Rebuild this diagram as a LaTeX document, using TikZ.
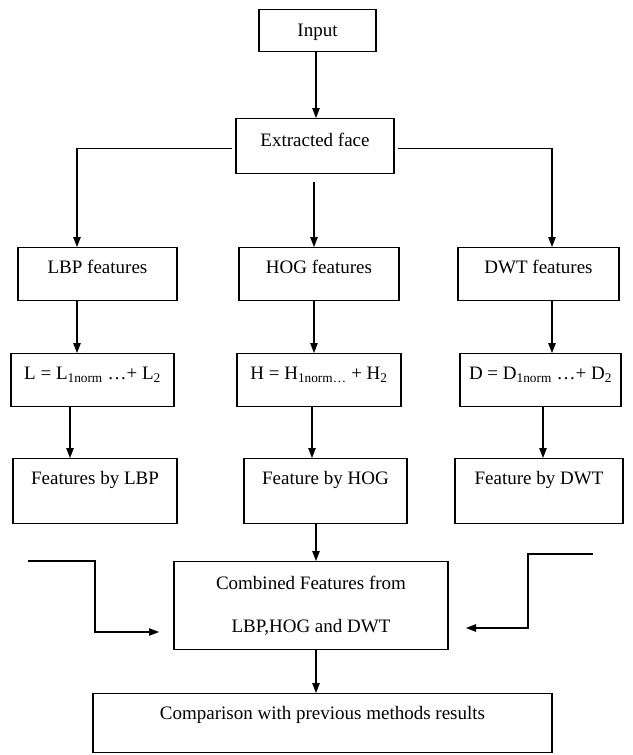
\documentclass[tikz,border=0pt]{standalone}
\usepackage{fontspec}
\setmainfont{Liberation Serif}
\usetikzlibrary{arrows.meta}
\begin{document}
\begin{tikzpicture}[x=1pt,y=-1pt,
  box/.style={draw, line width=1.3pt, inner xsep=2pt, text height=12pt, anchor=north,
    font=\fontsize{19pt}{22pt}\selectfont},
  arr/.style={line width=1.2pt, -{Triangle[length=10pt,width=7.5pt]}}]
\useasboundingbox (0,0) rectangle (632,755);
% column x positions
\coordinate (xa) at (77,0);
\coordinate (xb) at (314,0);
\coordinate (xc) at (552,0);
\coordinate (xd) at (70,0);
\coordinate (xe) at (312,0);
\coordinate (xf) at (543,0);
\coordinate (xg) at (316,0);
% nodes
\node[box, minimum width=117pt, inner ysep=15pt, text depth=0pt] (input) at (317.5,9) {Input};
\node[box, minimum width=158pt, inner ysep=16pt, text depth=11pt] (ext) at (315,118) {Extracted face};
\node[box, minimum width=159pt, inner ysep=14pt, text depth=13pt] (lbp) at (97.5,247) {LBP features};
\node[box, minimum width=160pt, inner ysep=14pt, text depth=13pt] (hog) at (319,247) {HOG features};
\node[box, minimum width=161pt, inner ysep=14pt, text depth=13pt] (dwt) at (538.5,247) {DWT features};
\node[box, minimum width=163pt, inner ysep=14pt, text depth=13pt] (fl) at (92.5,353) {L = L\textsubscript{1norm} …+ L\textsubscript{2}};
\node[box, minimum width=164pt, inner ysep=14pt, text depth=13pt] (fh) at (319,353) {H = H\textsubscript{1norm…} + H\textsubscript{2}};
\node[box, minimum width=161pt, inner ysep=14pt, text depth=13pt] (fd) at (540.5,353) {D = D\textsubscript{1norm} …+ D\textsubscript{2}};
\node[box, minimum width=164pt, inner ysep=14pt, text depth=25pt] (bl) at (95,458) {Features by LBP};
\node[box, minimum width=163pt, inner ysep=14pt, text depth=25pt] (bh) at (325.5,458) {Feature by HOG};
\node[box, minimum width=168pt, inner ysep=14pt, text depth=25pt] (bd) at (539,458) {Feature by DWT};
\node[draw, line width=1.3pt, anchor=north, minimum width=274pt, minimum height=88pt, align=center,
  font=\fontsize{19pt}{43pt}\selectfont] (comb) at (311,561) {Combined Features from\\LBP,HOG and DWT};
\node[box, minimum width=459pt, inner ysep=14pt, text depth=19pt] (comp) at (322.5,693) {Comparison with previous methods results};
% connectors
\draw[arr] (input.south -| xg) -- (ext.north -| xg);
\draw[arr] ([xshift=-3pt,yshift=-2.5pt]ext.west) -| (lbp.north -| xa);
\draw[arr] ([xshift=3pt,yshift=-2.5pt]ext.east) -| (dwt.north -| xc);
\draw[arr] ([yshift=-8pt]ext.south -| xb) -- (hog.north -| xb);
\draw[arr] (lbp.south -| xa) -- (fl.north -| xa);
\draw[arr] (hog.south -| xb) -- (fh.north -| xb);
\draw[arr] (dwt.south -| xc) -- (fd.north -| xc);
\draw[arr] (fl.south -| xd) -- (bl.north -| xd);
\draw[arr] (fh.south -| xe) -- (bh.north -| xe);
\draw[arr] (fd.south -| xf) -- (bd.north -| xf);
\draw[arr] (bh.south -| xg) -- (comb.north -| xg);
\draw[arr] (comb.south -| xg) -- (comp.north -| xg);
\coordinate (lin) at (28,561);
\coordinate (lend) at (159,632);
\coordinate (rin) at (593,554);
\coordinate (rend) at (466,628);
\draw[arr] (lin) -- ++(67,0) |- (lend);
\draw[arr] (rin) -- ++(-65,0) |- (rend);
\end{tikzpicture}
\end{document}
